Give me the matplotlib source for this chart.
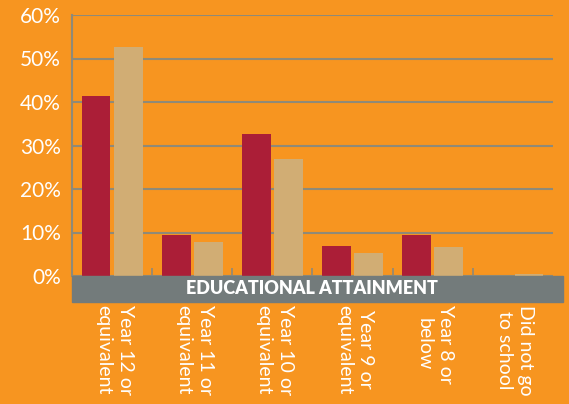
import matplotlib
matplotlib.use("Agg")
import matplotlib.pyplot as plt
from matplotlib.patches import Rectangle
import matplotlib.transforms as mtransforms

categories = ["Year 12 or\nequivalent", "Year 11 or\nequivalent", "Year 10 or\nequivalent",
              "Year 9 or\nequivalent", "Year 8 or\nbelow", "Did not go\nto school"]
series_a = [41.4, 9.4, 32.6, 6.9, 9.4, 0.1]
series_b = [52.6, 7.8, 26.9, 5.3, 6.7, 0.5]
yticks = [0, 10, 20, 30, 40, 50, 60]
ytick_labels = ["0%", "10%", "20%", "30%", "40%", "50%", "60%"]
band_title = "EDUCATIONAL ATTAINMENT"

ORANGE = "#F79520"
RED = "#AB1E37"
TAN = "#D1AD74"
GREY = "#737B7B"
GRID = "#8F8A78"

W, H = 569, 404
fig = plt.figure(figsize=(W / 100, H / 100), dpi=100, facecolor=ORANGE)
plt.rcParams['font.family'] = ['Lato', 'DejaVu Sans']

def fx(px): return px / W
def fy(py): return (H - py) / H

ax = fig.add_axes([fx(72), fy(276), fx(553) - fx(72), fy(15) - fy(276)])
ax.set_facecolor(ORANGE)
ax.set_xlim(-0.5, len(categories) - 0.5)
ax.set_ylim(0, 60)

x = list(range(len(categories)))
ax.bar([i - 0.2 for i in x], series_a, width=0.36, color=RED, zorder=3)
ax.bar([i + 0.2 for i in x], series_b, width=0.36, color=TAN, zorder=3)

ax.set_yticks(yticks)
ax.set_yticklabels(ytick_labels, color="white", fontsize=15)
ax.yaxis.grid(True, color=GRID, linewidth=1.5, zorder=0)
ax.tick_params(axis="y", length=0, pad=8)
ax.set_xticks([i + 0.5 for i in x[:-1]])
ax.set_xticklabels([])
ax.tick_params(axis="x", direction="in", length=6, color=GRID, width=1.2)
for s in ["top", "right", "bottom"]:
    ax.spines[s].set_visible(False)
ax.spines["left"].set_color(GRID)
ax.spines["left"].set_linewidth(1.5)

band = Rectangle((fx(72), fy(302)), fx(563) - fx(72), fy(276) - fy(302),
                 transform=fig.transFigure, color=GREY, zorder=5)
fig.patches.append(band)
fig.text((fx(72) + fx(563)) / 2 - 0.01, (fy(276) + fy(302)) / 2, band_title, color="white",
         fontsize=13, fontweight="heavy", ha="center", va="center", zorder=6)

trans = mtransforms.blended_transform_factory(ax.transData, fig.transFigure)
for i, lab in enumerate(categories):
    ax.text(i + 0.03, fy(305), lab, rotation=-90, ha="center", va="top", color="white",
            fontsize=14, linespacing=1.3, transform=trans, clip_on=False)

fig.savefig("out.png", dpi=100, facecolor=ORANGE)
